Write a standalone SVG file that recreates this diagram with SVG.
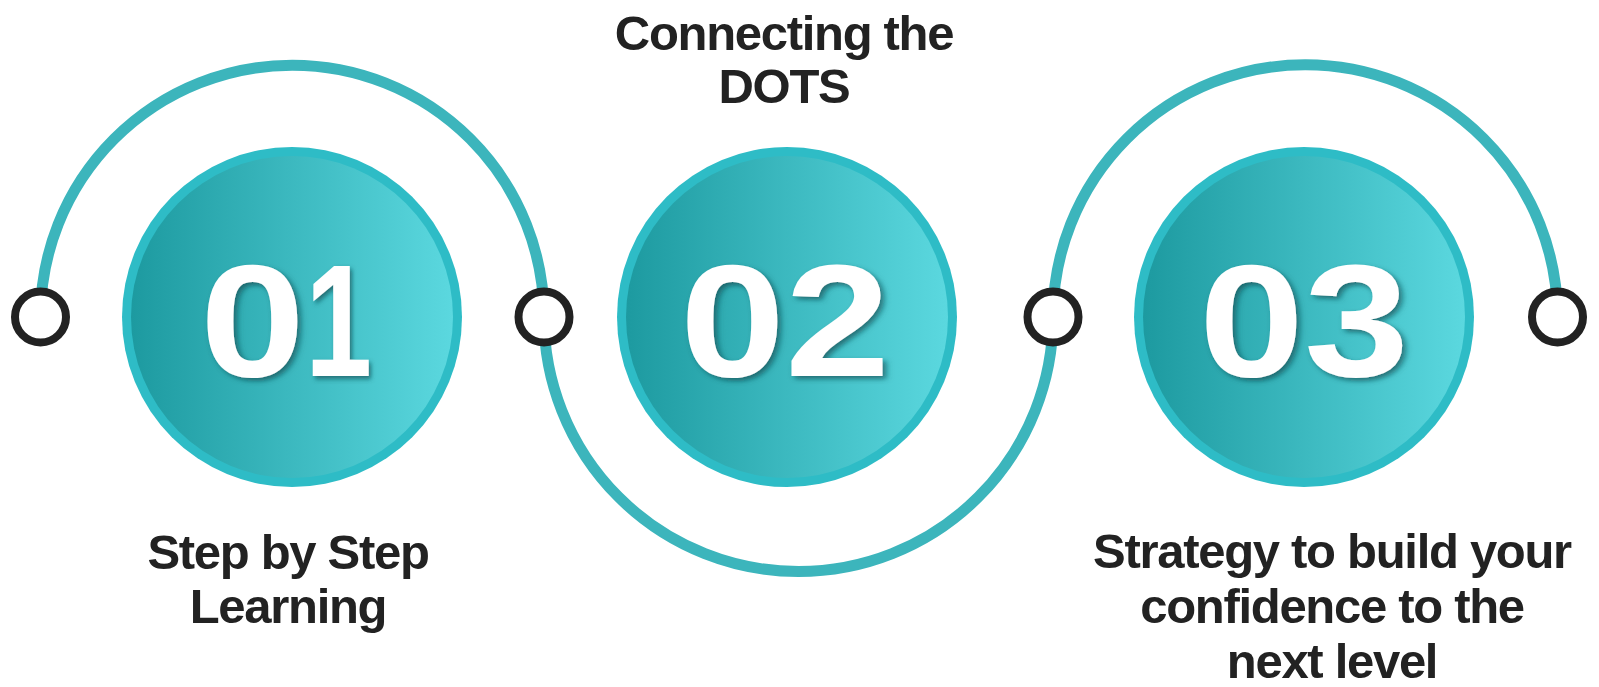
<svg xmlns="http://www.w3.org/2000/svg" width="1599" height="687" viewBox="0 0 1599 687">
  <defs>
    <linearGradient id="disk" x1="0" y1="0" x2="1" y2="0">
      <stop offset="0" stop-color="#1d9aa0"/>
      <stop offset="1" stop-color="#5bd8df"/>
    </linearGradient>
    <filter id="shadow" x="-20%" y="-20%" width="140%" height="140%">
      <feDropShadow dx="3" dy="3" stdDeviation="2.5" flood-color="#0b4c52" flood-opacity="0.7"/>
    </filter>
  </defs>
  <style>
    .arc { fill: none; stroke: #3cb5bc; stroke-width: 11; }
    .dot { fill: #ffffff; stroke: #222222; stroke-width: 8; }
    .ring { fill: #2ebcc6; }
    .inner { fill: url(#disk); }
    .num { font-family: "Liberation Sans", Arial, sans-serif; font-weight: bold; font-size: 160px; fill: #ffffff; filter: url(#shadow); }
    .lbl { font-family: "Liberation Sans", Arial, sans-serif; font-weight: bold; font-size: 49px; fill: #222222; text-anchor: middle; letter-spacing: -1.3px; }
  </style>
  <rect width="1599" height="687" fill="#ffffff"/>

  <g id="connectors">
    <path class="arc" d="M 40.5 317 A 251.7 251.7 0 0 1 544 317"/>
    <path class="arc" d="M 544 317 A 254.5 254.5 0 0 0 1053 317"/>
    <path class="arc" d="M 1053 317 A 252.25 252.25 0 0 1 1557.5 317"/>
  </g>

  <g id="step1">
    <circle class="ring" cx="292" cy="317" r="170"/>
    <circle class="inner" cx="292" cy="317" r="161"/>
    <text class="num" transform="translate(200 376) scale(1.18 1)" x="0" y="0">0</text>
    <text class="num" transform="translate(372 376) scale(0.75 1)" x="0" y="0" text-anchor="end">1</text>
  </g>
  <g id="step2">
    <circle class="ring" cx="787" cy="317" r="170"/>
    <circle class="inner" cx="787" cy="317" r="161"/>
    <text class="num" transform="translate(785 376) scale(1.18 1)" x="0" y="0" text-anchor="middle">02</text>
  </g>
  <g id="step3">
    <circle class="ring" cx="1304" cy="317" r="170"/>
    <circle class="inner" cx="1304" cy="317" r="161"/>
    <text class="num" transform="translate(1304 376) scale(1.18 1)" x="0" y="0" text-anchor="middle">03</text>
  </g>

  <g id="dot1"><circle class="dot" cx="40.5" cy="317" r="25.5"/></g>
  <g id="dot2"><circle class="dot" cx="544" cy="317" r="25.5"/></g>
  <g id="dot3"><circle class="dot" cx="1053" cy="317" r="25.5"/></g>
  <g id="dot4"><circle class="dot" cx="1557.5" cy="317" r="25.5"/></g>

  <g id="label1">
    <text class="lbl" x="288" y="569">Step by Step</text>
    <text class="lbl" x="288" y="623">Learning</text>
  </g>
  <g id="label2">
    <text class="lbl" x="784" y="50">Connecting the</text>
    <text class="lbl" x="784" y="103">DOTS</text>
  </g>
  <g id="label3">
    <text class="lbl" x="1332" y="568">Strategy to build your</text>
    <text class="lbl" x="1332" y="623">confidence to the</text>
    <text class="lbl" x="1332" y="678">next level</text>
  </g>
</svg>
